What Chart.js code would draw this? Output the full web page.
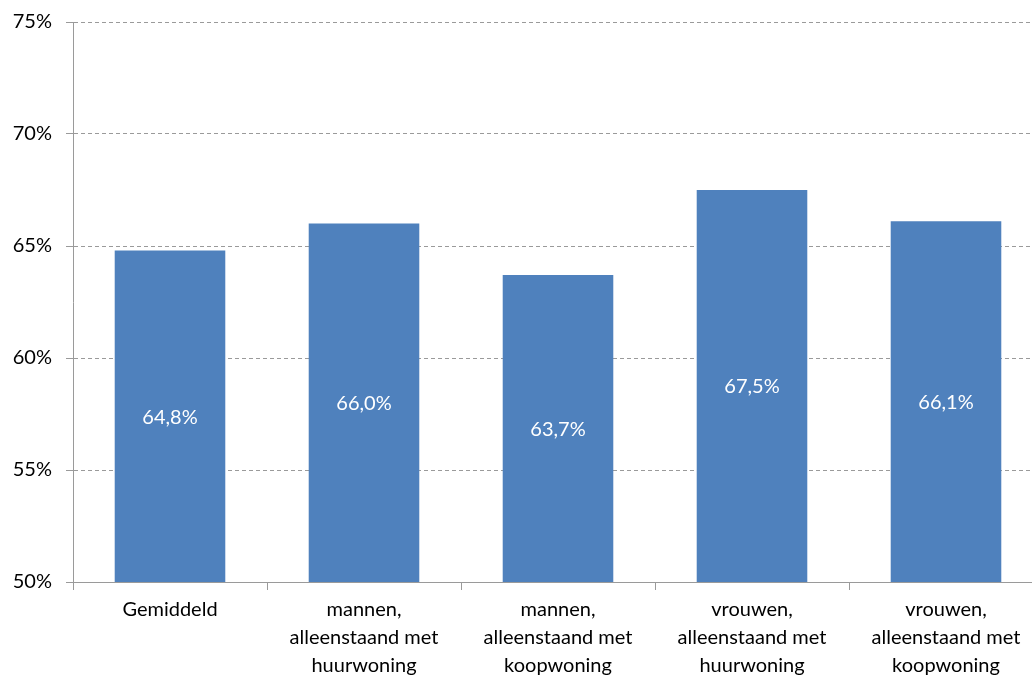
<!DOCTYPE html>
<html>
<head>
<meta charset="utf-8">
<script src="https://cdn.jsdelivr.net/npm/chart.js@4"></script>
<style>
  html, body { margin: 0; padding: 0; overflow: hidden; background: #fff; }
  #wrap { width: 1050px; height: 700px; }
</style>
</head>
<body>
<div id="wrap"><canvas id="chart"></canvas></div>
<script>
const categories = [
  "Gemiddeld",
  ["mannen,", "alleenstaand met", "huurwoning"],
  ["mannen,", "alleenstaand met", "koopwoning"],
  ["vrouwen,", "alleenstaand met", "huurwoning"],
  ["vrouwen,", "alleenstaand met", "koopwoning"]
];
const values = [64.8, 66.0, 63.7, 67.5, 66.1];
const yTicks = [50, 55, 60, 65, 70, 75];

const fontFamily = "Lato, 'Open Sans', sans-serif";

// write the value in the middle of each bar
const barLabels = {
  id: "barLabels",
  afterDraw(chart) {
    const ctx = chart.ctx;
    const xs = chart.scales.x;
    const ys = chart.scales.y;
    ctx.save();
    ctx.fillStyle = "#ffffff";
    ctx.font = "20px " + fontFamily;
    ctx.textAlign = "center";
    ctx.textBaseline = "middle";
    values.forEach((v, i) => {
      const mid = (ys.getPixelForValue(v) + ys.getPixelForValue(ys.min)) / 2;
      ctx.fillText(v.toFixed(1).replace(".", ",") + "%", xs.getPixelForValue(i), mid + 1);
    });
    ctx.restore();
  }
};

new Chart(document.getElementById("chart"), {
  type: "bar",
  data: {
    labels: categories,
    datasets: [{
      data: values,
      backgroundColor: "#4F81BD",
      barPercentage: 1,
      categoryPercentage: 0.57
    }]
  },
  options: {
    responsive: true,
    maintainAspectRatio: false,
    animation: false,
    layout: { padding: { top: 22, right: 7, left: 0, bottom: 0 } },
    plugins: { legend: { display: false }, tooltip: { enabled: false } },
    scales: {
      x: {
        offset: true,
        grid: {
          offset: true,
          drawOnChartArea: false,
          color: "#9a9a9a",
          tickLength: 8
        },
        border: { color: "#9a9a9a" },
        ticks: {
          color: "#000",
          font: { family: fontFamily, size: 20, lineHeight: 1.4 },
          padding: 6,
          maxRotation: 0
        },
        afterFit(scale) { scale.height = 118; }
      },
      y: {
        min: 50,
        max: 75,
        afterBuildTicks(scale) { scale.ticks = yTicks.map(v => ({ value: v })); },
        grid: {
          color: "#9a9a9a",
          tickLength: 7,
          tickBorderDash: [0, 0]
        },
        border: { color: "#9a9a9a", dash: [4, 3] },
        ticks: {
          color: "#000",
          font: { family: fontFamily, size: 20 },
          padding: 14,
          callback: v => v + "%"
        },
        afterFit(scale) {
          scale.width = 73;
          scale.paddingTop = 0;
          scale.paddingBottom = 0;
        }
      }
    }
  },
  plugins: [barLabels]
});
</script>
</body>
</html>
